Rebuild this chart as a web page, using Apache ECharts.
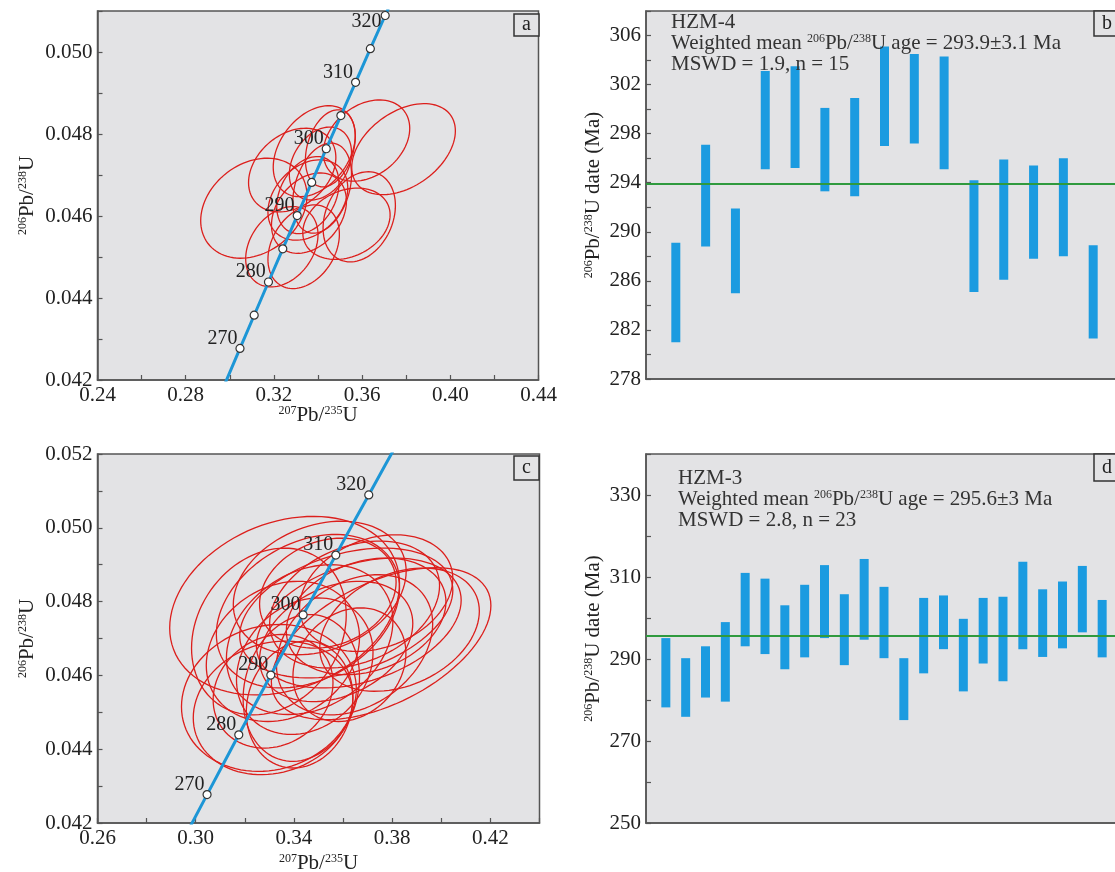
<!DOCTYPE html>
<html lang="en" style="height: 100%">
<head>
  <meta charset="utf-8">
</head>
<body style="height: 100%; margin: 0; background: #fff">
  <div id="container" style="width: 1115px; height: 872px"></div>

  <script type="text/javascript" src="https://cdn.jsdelivr.net/npm/echarts@6/dist/echarts.min.js"></script>

  <script type="text/javascript">
    var dom = document.getElementById('container');
    var myChart = echarts.init(dom, null, { renderer: 'canvas' });

    // concordia reference points (age Ma, 207Pb/235U, 206Pb/238U)
    const concAge = [260, 265, 270, 275, 280, 285, 290, 295, 300, 305, 310, 315, 320, 325, 330];
    const concX = [0.29183, 0.29821, 0.30462, 0.31106, 0.31753, 0.32403, 0.33057, 0.33714, 0.34374, 0.35037, 0.35704, 0.36374, 0.37047, 0.37723, 0.38403];
    const concY = [0.04116, 0.04196, 0.04277, 0.04358, 0.04439, 0.04520, 0.04601, 0.04682, 0.04764, 0.04845, 0.04926, 0.05008, 0.05089, 0.05171, 0.05252];

    // HZM-4 spot ellipses (panel a)
    const a207 = [0.3109, 0.3788, 0.3620, 0.3587, 0.3529, 0.3335, 0.3236, 0.3283, 0.3383, 0.3411, 0.3354, 0.3354, 0.3419, 0.3359, 0.3456];
    const a207Err = [0.0241, 0.0235, 0.0196, 0.0164, 0.0198, 0.0162, 0.0164, 0.0198, 0.0186, 0.0141, 0.0181, 0.0141, 0.0133, 0.0170, 0.0113];
    const a206 = [0.04619, 0.04763, 0.04784, 0.04598, 0.04581, 0.04525, 0.04525, 0.04712, 0.04758, 0.04728, 0.04639, 0.04651, 0.04668, 0.04607, 0.04765];
    const a206Err = [0.00122, 0.00111, 0.00099, 0.00110, 0.00087, 0.00102, 0.00098, 0.00102, 0.00111, 0.00089, 0.00098, 0.00094, 0.00110, 0.00098, 0.00094];
    const aRho = [0.25, 0.4, 0.3, 0.25, 0.25, 0.3, 0.3, 0.3, 0.35, 0.3, 0.3, 0.3, 0.3, 0.3, 0.3];

    // HZM-3 spot ellipses (panel c)
    const c207 = [0.3362, 0.3755, 0.3298, 0.3315, 0.3457, 0.3613, 0.3664, 0.3298, 0.3505, 0.3694, 0.3444, 0.3315, 0.3572, 0.3735, 0.3430, 0.3647, 0.3464, 0.3830, 0.3538, 0.3355, 0.3423, 0.3626, 0.3647];
    const c207Err = [0.0468, 0.0447, 0.0356, 0.0325, 0.0373, 0.0434, 0.0417, 0.0315, 0.0352, 0.0325, 0.0278, 0.0244, 0.0312, 0.0312, 0.0237, 0.0318, 0.0339, 0.0325, 0.0278, 0.0312, 0.0217, 0.0230, 0.0346];
    const c206 = [0.04789, 0.04686, 0.04539, 0.04512, 0.04774, 0.04769, 0.04742, 0.04719, 0.04837, 0.04760, 0.04625, 0.04557, 0.04692, 0.04823, 0.04566, 0.04683, 0.04697, 0.04724, 0.04823, 0.04665, 0.04521, 0.04629, 0.04792];
    const c206Err = [0.00242, 0.00206, 0.00199, 0.00181, 0.00208, 0.00176, 0.00176, 0.00226, 0.00181, 0.00158, 0.00185, 0.00154, 0.00163, 0.00158, 0.00199, 0.00190, 0.00203, 0.00167, 0.00149, 0.00190, 0.00172, 0.00154, 0.00172];
    const cRho = [0.25, 0.5, 0.12, 0.15, 0.3, 0.35, 0.35, 0.2, 0.25, 0.25, 0.2, 0.15, 0.3, 0.25, 0.15, 0.3, 0.25, 0.3, 0.2, 0.2, 0.12, 0.2, 0.3];

    // 206Pb/238U dates with error (panel b, HZM-4)
    const bLow = [281.0, 288.8, 285.0, 295.1, 295.2, 293.3, 292.9, 297.0, 297.2, 295.1, 285.1, 286.1, 287.8, 288.0, 281.3];
    const bHigh = [289.1, 297.1, 291.9, 303.1, 303.5, 300.1, 300.9, 305.1, 304.5, 304.3, 294.2, 295.9, 295.4, 296.0, 288.9];
    const bMean = 293.9;

    // 206Pb/238U dates with error (panel d, HZM-3)
    const dLow = [278.2, 275.9, 280.6, 279.6, 293.1, 291.2, 287.5, 290.4, 295.1, 288.5, 294.7, 290.2, 275.1, 286.5, 292.4, 282.1, 288.9, 284.6, 292.4, 290.5, 292.6, 296.5, 290.4];
    const dHigh = [295.1, 290.2, 293.1, 299.0, 311.0, 309.6, 303.1, 308.1, 312.9, 305.8, 314.4, 307.6, 290.2, 304.9, 305.5, 299.8, 304.9, 305.2, 313.7, 307.0, 308.9, 312.7, 304.4];
    const dMean = 295.6;

    const FONT = 'Liberation Serif';
    const INK = '#222';
    const AXIS = '#555';
    const PLOT_BG = '#e3e3e5';

    const rich = {
      s: { fontFamily: FONT, fontSize: 12, color: INK, verticalAlign: 'top' },
      n: { fontFamily: FONT, fontSize: 21, color: INK }
    };
    const nameStyle = { fontFamily: FONT, fontSize: 21, color: INK, rich: rich };
    const labelStyle = { fontFamily: FONT, fontSize: 21, color: INK };

    function gridOf(left, top, width, height) {
      return {
        left: left, top: top, width: width, height: height,
        show: true, backgroundColor: PLOT_BG, borderColor: AXIS, borderWidth: 1.5,
        outerBoundsMode: 'none', containLabel: false
      };
    }

    function valueAxis(idx, min, max, interval, fmt, extra) {
      return Object.assign({
        type: 'value', gridIndex: idx, min: min, max: max, interval: interval,
        axisLine: { show: true, onZero: false, lineStyle: { color: AXIS, width: 1.5 } },
        axisTick: { show: true, inside: true, length: 5, lineStyle: { color: AXIS, width: 1.2 } },
        axisLabel: Object.assign({ formatter: fmt, margin: 5, hideOverlap: false }, labelStyle),
        splitLine: { show: false },
        nameTextStyle: nameStyle,
        nameMoveOverlap: false
      }, extra || {});
    }

    function ellipseData(x, xe, y, ye, r) {
      return x.map(function (v, i) { return [v, xe[i], y[i], ye[i], r[i]]; });
    }

    function ellipseSeries(idx, data) {
      return {
        type: 'custom', xAxisIndex: idx, yAxisIndex: idx, data: data,
        encode: { x: 0, y: 2 }, silent: true, z: 2,
        renderItem: function (params, api) {
          const cx = api.value(0), sx = api.value(1), cy = api.value(2), sy = api.value(3), r = api.value(4);
          const q = Math.sqrt(1 - r * r);
          const pts = [];
          for (let k = 0; k < 96; k++) {
            const t = Math.PI * 2 * k / 96;
            pts.push(api.coord([cx + sx * Math.cos(t), cy + sy * (r * Math.cos(t) + q * Math.sin(t))]));
          }
          return {
            type: 'polygon', shape: { points: pts },
            style: { fill: 'none', stroke: '#dc1f1c', lineWidth: 1.3 }
          };
        }
      };
    }

    // step: spacing of the age markers; lowLabelAge: label drawn beside/below its marker (near the top edge)
    function concordiaSeries(idx, step, lowLabelAge) {
      const data = concAge.map(function (age, i) {
        const marked = age >= 270 && age <= 320 && age % step === 0;
        const label = { show: marked && age % 10 === 0 };
        if (age === lowLabelAge) label.offset = [2, 6];
        return {
          name: String(age),
          value: [concX[i], concY[i]],
          symbol: marked ? 'circle' : 'none',
          label: label
        };
      });
      return {
        type: 'line', xAxisIndex: idx, yAxisIndex: idx, data: data, z: 5,
        showSymbol: true, symbolSize: 8, clip: true, silent: true,
        lineStyle: { color: '#1d96d6', width: 3 },
        itemStyle: { color: '#fff', borderColor: '#333', borderWidth: 1.2 },
        label: {
          position: 'left', distance: 1, offset: [3, -10], formatter: '{b}',
          fontFamily: FONT, fontSize: 20, color: INK
        }
      };
    }

    function barData(low, high) {
      return low.map(function (v, i) { return [i + 1, v, high[i]]; });
    }

    function barSeries(idx, data) {
      return {
        type: 'custom', xAxisIndex: idx, yAxisIndex: idx, data: data,
        encode: { x: 0, y: [1, 2] }, silent: true, z: 2,
        renderItem: function (params, api) {
          const top = api.coord([api.value(0), api.value(2)]);
          const bot = api.coord([api.value(0), api.value(1)]);
          return {
            type: 'rect',
            shape: { x: top[0] - 4.5, y: top[1], width: 9, height: bot[1] - top[1] },
            style: { fill: '#1b9be0' }
          };
        }
      };
    }

    function meanSeries(idx, xmax, mean) {
      return {
        type: 'line', xAxisIndex: idx, yAxisIndex: idx, z: 4, silent: true,
        data: [[0, mean], [xmax, mean]], symbol: 'none',
        lineStyle: { color: '#2f9a3e', width: 2 }
      };
    }

    function letterBox(x, y, w, h, ch) {
      return {
        type: 'group', x: x, y: y, z: 20,
        children: [
          { type: 'rect', shape: { x: 0, y: 0, width: w, height: h }, style: { fill: PLOT_BG, stroke: '#333', lineWidth: 1.5 } },
          { type: 'text', x: w / 2, y: h / 2, style: { text: ch, fontFamily: FONT, fontSize: 20, fill: INK, align: 'center', verticalAlign: 'middle' } }
        ]
      };
    }

    function infoText(x, y, lines) {
      return {
        type: 'text', x: x, y: y, z: 20,
        style: {
          text: lines.join('\n'), fontFamily: FONT, fontSize: 21, lineHeight: 21,
          fill: '#333', verticalAlign: 'top',
          rich: { s: { fontFamily: FONT, fontSize: 12, fill: '#333', verticalAlign: 'top' } }
        }
      };
    }

    const fmtA_x = function (v) { const k = Math.round(v * 100); return k % 4 === 0 ? v.toFixed(2) : ''; };
    const fmtC_x = function (v) { const k = Math.round(v * 100); return (k - 26) % 4 === 0 && k < 44 ? v.toFixed(2) : ''; };
    const fmtA_y = function (v) { const k = Math.round(v * 1000); return k % 2 === 0 && k <= 50 ? v.toFixed(3) : ''; };
    const fmtC_y = function (v) { const k = Math.round(v * 1000); return k % 2 === 0 ? v.toFixed(3) : ''; };
    const fmtB_y = function (v) { return (Math.round(v) - 278) % 4 === 0 && v < 307 ? String(Math.round(v)) : ''; };
    const fmtD_y = function (v) { return (Math.round(v) - 250) % 20 === 0 && v < 335 ? String(Math.round(v)) : ''; };

    const xName = '{s|207}{n|Pb/}{s|235}{n|U}';
    const yName = '{s|206}{n|Pb/}{s|238}{n|U}';
    const yDateName = '{s|206}{n|Pb/}{s|238}{n|U date (Ma)}';

    const hiddenX = { axisLabel: { show: false }, axisTick: { show: false } };

    var option = {
      animation: false,
      backgroundColor: '#fff',
      grid: [
        gridOf(97.5, 11, 441, 369),
        gridOf(646, 11, 477, 368),
        gridOf(97.5, 454, 442, 369),
        gridOf(646, 454, 476, 369)
      ],
      xAxis: [
        valueAxis(0, 0.24, 0.44, 0.02, fmtA_x, { name: xName, nameLocation: 'middle', nameGap: 25 }),
        valueAxis(1, 0, bLow.length + 1, 1, null, hiddenX),
        valueAxis(2, 0.26, 0.44, 0.02, fmtC_x, { name: xName, nameLocation: 'middle', nameGap: 30 }),
        valueAxis(3, 0, dLow.length + 1, 1, null, hiddenX)
      ],
      yAxis: [
        valueAxis(0, 0.042, 0.051, 0.001, fmtA_y, { name: yName, nameLocation: 'middle', nameGap: 60 }),
        valueAxis(1, 278, 308, 2, fmtB_y, { name: yDateName, nameLocation: 'middle', nameGap: 42 }),
        valueAxis(2, 0.042, 0.052, 0.001, fmtC_y, { name: yName, nameLocation: 'middle', nameGap: 60 }),
        valueAxis(3, 250, 340, 10, fmtD_y, { name: yDateName, nameLocation: 'middle', nameGap: 42 })
      ],
      series: [
        ellipseSeries(0, ellipseData(a207, a207Err, a206, a206Err, aRho)),
        concordiaSeries(0, 5, 320),
        barSeries(1, barData(bLow, bHigh)),
        meanSeries(1, bLow.length + 1, bMean),
        ellipseSeries(2, ellipseData(c207, c207Err, c206, c206Err, cRho)),
        concordiaSeries(2, 10, null),
        barSeries(3, barData(dLow, dHigh)),
        meanSeries(3, dLow.length + 1, dMean)
      ],
      graphic: [
        letterBox(514, 14, 25, 22, 'a'),
        letterBox(1094, 11, 26, 25, 'b'),
        letterBox(514, 456, 25, 24, 'c'),
        letterBox(1094, 454, 26, 27, 'd'),
        infoText(671, 12, ['HZM-4', 'Weighted mean {s|206}Pb/{s|238}U age = 293.9±3.1 Ma', 'MSWD = 1.9, n = 15']),
        infoText(678, 468, ['HZM-3', 'Weighted mean {s|206}Pb/{s|238}U age = 295.6±3 Ma', 'MSWD = 2.8, n = 23'])
      ]
    };

    myChart.setOption(option);
    window.addEventListener('resize', myChart.resize);
  </script>
</body>
</html>
